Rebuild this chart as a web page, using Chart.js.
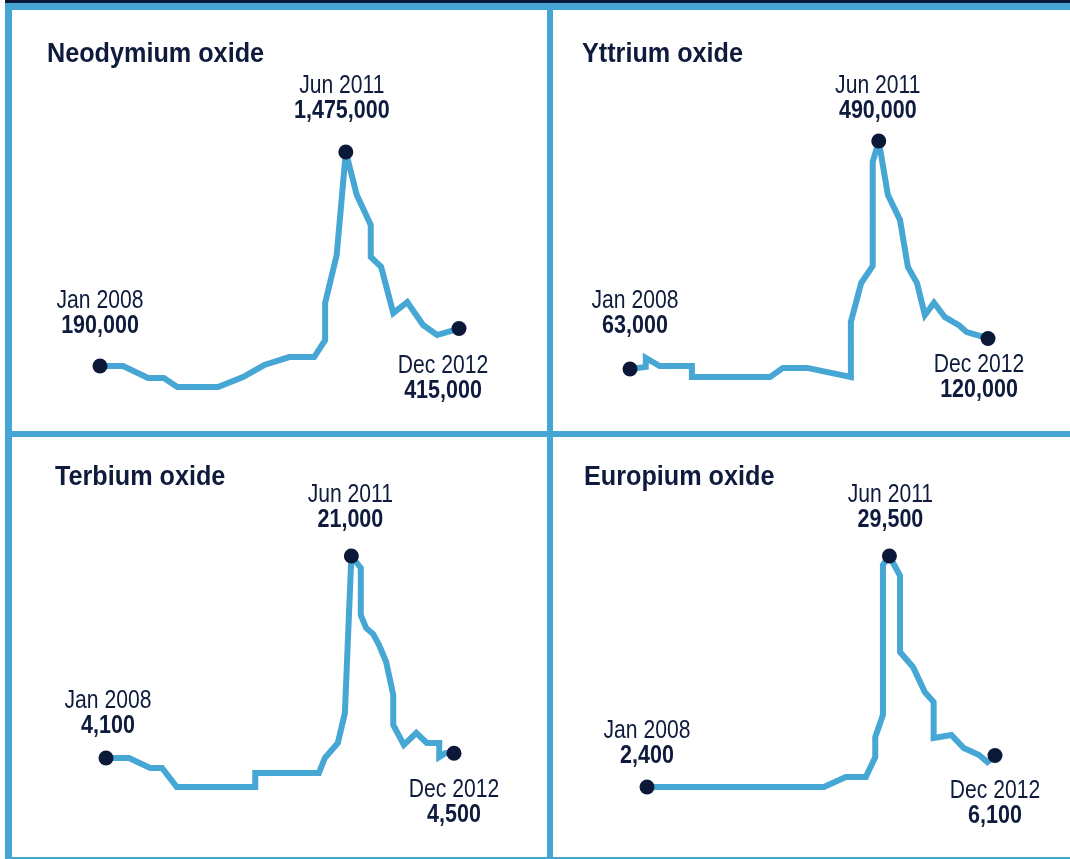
<!Doctype html>
<html>
  <head>
    <meta charset="utf-8"/>
    <style type="text/css">
      body {
        margin: 0px;
        padding: 0px;
        background: #ffffff;
      }
      #frame {
        position: relative;
        width: 1070px;
        height: 859px;
        overflow: hidden;
        background: #ffffff;
      }
      #frame canvas, #frame .bar {
        position: absolute;
      }
      .blue { background-color: #45a6d4; }
      .navy { background-color: #0c1a3a; }
    </style>
  </head>
  <body>
    <div id="frame">
      <canvas id="c1" width="535" height="421" style="left:12px;top:10px;"></canvas>
      <canvas id="c2" width="517" height="421" style="left:553px;top:10px;"></canvas>
      <canvas id="c3" width="535" height="420" style="left:12px;top:437px;"></canvas>
      <canvas id="c4" width="517" height="420" style="left:553px;top:437px;"></canvas>
      <!-- frame lines -->
      <div class="bar navy" style="left:5px;top:0;width:1065px;height:3px;"></div>
      <div class="bar blue" style="left:5px;top:3px;width:1065px;height:7px;"></div>
      <div class="bar blue" style="left:5px;top:3px;width:7px;height:856px;"></div>
      <div class="bar blue" style="left:547px;top:3px;width:6px;height:856px;"></div>
      <div class="bar blue" style="left:5px;top:431px;width:1065px;height:6px;"></div>
      <div class="bar blue" style="left:5px;top:857px;width:1065px;height:2px;"></div>
    </div>
  </body>
  <script src="https://cdn.jsdelivr.net/npm/chart.js@4.4.1/dist/chart.umd.min.js"></script>
  <script>
    // months counted from Jan 2008 (0) to Dec 2012 (59), prices per tonne
    var keyDates = ['Jan 2008', 'Jun 2011', 'Dec 2012'];

    var ndMonths = [0, 3.8, 7.9, 10.5, 12.7, 19.4, 23.5, 27.0, 31.1, 35.2, 37.0, 37.0, 38.9, 40.4, 42.2, 44.5, 44.5, 46.2, 48.2, 50.5, 53.1, 55.4, 59];
    var ndPrices = [190000, 190000, 118000, 118000, 64000, 64000, 124000, 196000, 244000, 244000, 346000, 568000, 857000, 1475000, 1217000, 1037000, 845000, 785000, 508000, 574000, 436000, 376000, 415000];

    var yMonths = [0, 2.6, 2.6, 4.9, 10.2, 10.2, 23.1, 25.2, 29.2, 36.4, 36.4, 38.1, 40.0, 40.0, 41.0, 42.5, 44.5, 45.8, 47.3, 48.6, 50.1, 51.9, 54.2, 55.5, 58.2, 59];
    var yPrices = [63000, 67000, 83600, 68600, 68600, 48000, 48000, 65000, 65000, 48000, 151000, 224000, 256000, 451000, 490000, 389000, 342000, 254000, 224000, 164000, 187000, 160000, 145000, 132000, 123000, 120000];

    var tbMonths = [0, 3.9, 7.5, 9.5, 12.0, 25.3, 25.3, 36.1, 37.1, 39.3, 40.5, 41.6, 43.2, 43.2, 44.1, 45.3, 46.3, 47.5, 48.7, 48.7, 50.5, 52.6, 54.4, 56.5, 56.5, 57.6, 59];
    var tbPrices = [4100, 4100, 3260, 3260, 1670, 1670, 2850, 2850, 4100, 5350, 7860, 21000, 20000, 16060, 14980, 14470, 13550, 12130, 9370, 6860, 5190, 6190, 5350, 5350, 4180, 4520, 4500];

    var euMonths = [0, 30.0, 33.7, 37.1, 38.7, 38.7, 40.0, 40.0, 41.1, 42.9, 42.9, 45.1, 47.1, 48.6, 48.6, 51.6, 53.7, 56.3, 57.7, 59];
    var euPrices = [2400, 2400, 3570, 3570, 5920, 8270, 10850, 28440, 29500, 27170, 18230, 16480, 13540, 12370, 8150, 8500, 6970, 6150, 5330, 6100];

    var TEXT = '#0f1b3d';
    var LINE = '#46a6d4';
    var DOT = '#0c1838';

    var panels = [
      {id: 'c1', title: 'Neodymium oxide', months: ndMonths, prices: ndPrices, titleX: 35, titleY: 52,
       pad: {left: 88, right: 88, top: 142, bottom: 44}, offs: [[0, -58], [-4, -59], [-16, 44]]},
      {id: 'c2', title: 'Yttrium oxide', months: yMonths, prices: yPrices, titleX: 29, titleY: 52,
       pad: {left: 77, right: 82, top: 131, bottom: 54}, offs: [[5, -61], [-1, -48], [-9, 33]]},
      {id: 'c3', title: 'Terbium oxide', months: tbMonths, prices: tbPrices, titleX: 43, titleY: 48,
       pad: {left: 94, right: 93, top: 119, bottom: 70}, offs: [[2, -50], [-1, -54], [0, 44]]},
      {id: 'c4', title: 'Europium oxide', months: euMonths, prices: euPrices, titleX: 31, titleY: 48,
       pad: {left: 94, right: 75, top: 119, bottom: 70}, offs: [[0, -49], [1, -54], [0, 43]]}
    ];

    function condensedText(ctx, text, x, y, font, sx, align) {
      ctx.save();
      ctx.font = font;
      ctx.fillStyle = TEXT;
      ctx.textAlign = align;
      ctx.textBaseline = 'alphabetic';
      ctx.translate(x, y);
      ctx.scale(sx, 1);
      ctx.fillText(text, 0, 0);
      ctx.restore();
    }

    var labelPlugin = {
      id: 'keyLabels',
      beforeDatasetsDraw: function(chart) {
        chart.ctx.miterLimit = 3;
      },
      afterDraw: function(chart) {
        var p = chart.options.plugins.keyLabels;
        var ctx = chart.ctx;
        condensedText(ctx, p.title, p.titleX, p.titleY, 'bold 28px "Liberation Sans"', 0.9, 'left');
        var meta = chart.getDatasetMeta(0);
        var vals = chart.data.datasets[0].data;
        p.keys.forEach(function(idx, k) {
          var pt = meta.data[idx];
          var x = pt.x + p.offs[k][0];
          var y = pt.y + p.offs[k][1];
          condensedText(ctx, keyDates[k], x, y, '25px "Liberation Sans"', 0.845, 'center');
          condensedText(ctx, vals[idx].y.toLocaleString('en-US'), x, y + 25, 'bold 25px "Liberation Sans"', 0.86, 'center');
        });
      }
    };

    panels.forEach(function(pn) {
      var pts = pn.months.map(function(m, i) { return {x: m, y: pn.prices[i]}; });
      var peak = pn.prices.indexOf(Math.max.apply(null, pn.prices));
      var last = pn.prices.length - 1;
      var keys = [0, peak, last];
      new Chart(document.getElementById(pn.id), {
        type: 'line',
        data: {
          datasets: [{
            data: pts,
            borderColor: LINE,
            borderWidth: 6,
            borderJoinStyle: 'miter',
            borderCapStyle: 'butt',
            tension: 0,
            fill: false,
            clip: false,
            pointRadius: function(c) { return keys.indexOf(c.dataIndex) >= 0 ? 7.5 : 0; },
            pointBackgroundColor: DOT,
            pointBorderWidth: 0,
            pointHoverRadius: 0
          }]
        },
        options: {
          responsive: false,
          animation: false,
          events: [],
          layout: {padding: pn.pad},
          scales: {
            x: {type: 'linear', min: 0, max: 59, display: false},
            y: {type: 'linear', min: Math.min.apply(null, pn.prices), max: Math.max.apply(null, pn.prices), display: false}
          },
          plugins: {
            legend: {display: false},
            tooltip: {enabled: false},
            keyLabels: {title: pn.title, titleX: pn.titleX, titleY: pn.titleY, offs: pn.offs, keys: keys}
          }
        },
        plugins: [labelPlugin]
      });
    });
  </script>
</html>
